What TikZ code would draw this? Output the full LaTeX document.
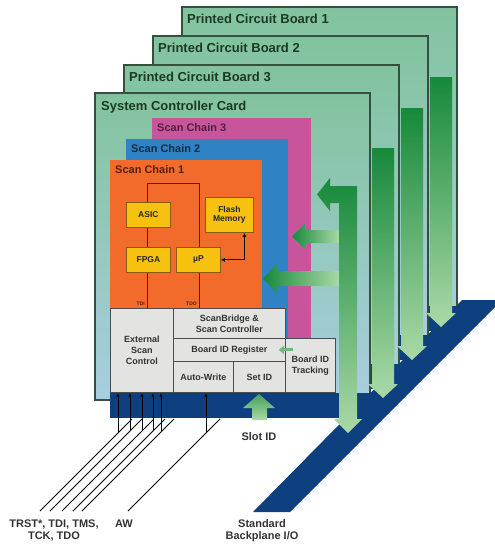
\documentclass[tikz,border=0pt]{standalone}
\usepackage{fontspec}
\setmainfont{Liberation Sans}
\usetikzlibrary{arrows.meta}
\definecolor{pcbgreen}{HTML}{82C39E}
\definecolor{pcbedge}{HTML}{34513F}
\definecolor{sccblue}{HTML}{A8CEDF}
\definecolor{bpblue}{HTML}{0E3F7E}
\definecolor{chainpink}{HTML}{C8559C}
\definecolor{chainblue}{HTML}{2F82C4}
\definecolor{chainorange}{HTML}{F26B2B}
\definecolor{chipyellow}{HTML}{F6C20F}
\definecolor{chipedge}{HTML}{8A5A12}
\definecolor{boxgray}{HTML}{E3E3E1}
\definecolor{arrdark}{HTML}{17893B}
\definecolor{arrlight}{HTML}{AAD9A7}
\definecolor{titleink}{HTML}{1B3A24}
\definecolor{wireink}{HTML}{5C1E0C}
\begin{document}
\begin{tikzpicture}[x=1pt, y=-1pt,
    board/.style={top color=pcbgreen, middle color=pcbgreen, bottom color=sccblue, draw=pcbedge, line width=1.2pt},
    title/.style={anchor=base west, inner sep=0pt, font=\fontsize{13}{15}\selectfont\bfseries, text=titleink},
    chainlbl/.style={anchor=base west, inner sep=0pt, font=\fontsize{11}{13}\selectfont\bfseries},
    chip/.style={anchor=north west, fill=chipyellow, draw=chipedge, line width=.8pt, inner sep=0pt, align=center, font=\fontsize{8.5}{9.5}\selectfont\bfseries, text=black!85},
    graybox/.style={anchor=north west, fill=boxgray, draw=black!70, line width=.8pt, inner sep=0pt, align=center, font=\fontsize{9}{11}\selectfont\bfseries, text=black!80},
    tag/.style={inner sep=2pt, font=\fontsize{5}{6}\selectfont\bfseries, text=wireink},
    wire/.style={draw=wireink, line width=.9pt},
    bigarrow/.style={top color=arrdark, bottom color=arrlight},
    sig/.style={line width=1pt},
    caption/.style={align=center, inner sep=0pt, font=\fontsize{11}{12}\selectfont\bfseries, text=black!80}]
  \useasboundingbox (0,0) rectangle (495,547);
  \fill[bpblue] (253,512) -- (290,512) -- (495,307) -- (495,300) -- (462,300) -- cycle;
  \foreach \n [count=\k from 0] in {1,2,3}{
    \draw[board] (182-29*\k,7+29*\k) rectangle (457-29*\k,313+29*\k);
    \fill[bpblue] (197-29*\k,306+29*\k) rectangle (467-29*\k,331+29*\k);
    \node[title] (pcb\n) at (187-29*\k,23+29*\k) {Printed Circuit Board \n};
  }
  \draw[board] (95,93) rectangle (370,400);
  \node[title] (scc) at (101,110) {System Controller Card};
  \fill[chainpink] (152,118) rectangle (311,338);
  \fill[chainblue] (126,139) rectangle (288,338);
  \fill[chainorange] (110,160) rectangle (262,308);
  \node[chainlbl, text=chainpink!40!black] (chain3) at (157,131) {Scan Chain 3};
  \node[chainlbl, text=chainblue!35!black] (chain2) at (131,152) {Scan Chain 2};
  \node[chainlbl, text=wireink] (chain1) at (115,173) {Scan Chain 1};
  \coordinate (tdi) at (147,308);
  \coordinate (tdo) at (199,308);
  \draw[wire] (tdi) --++ (0,-125) -| (tdo);
  \node[tag, anchor=south east] (tdilbl) at (tdi) {TDI};
  \node[tag, anchor=south east] (tdolbl) at (tdo) {TDO};
  \node[chip, minimum width=44pt, minimum height=25pt] (asic) at (126,202) {ASIC};
  \node[chip, minimum width=44pt, minimum height=25pt] (fpga) at (126,247) {FPGA};
  \node[chip, minimum width=44pt, minimum height=25pt] (up) at (176,247) {µP};
  \node[chip, minimum width=48pt, minimum height=35pt] (flash) at (205,197) {Flash\\Memory};
  \draw[{Latex[length=4pt,width=4pt]}-{Latex[length=4pt,width=4pt]}, line width=.9pt]
    (up.east) -| ([xshift=15pt]flash.south);
  \node[graybox, minimum width=63pt, minimum height=84pt] (ext) at (110,308) {External\\Scan\\Control};
  \node[graybox, minimum width=112pt, minimum height=30pt] (bridge) at (173,308) {ScanBridge \&\\Scan Controller};
  \node[graybox, minimum width=112pt, minimum height=23pt] (reg) at (173,338) {Board ID Register};
  \node[graybox, minimum width=60pt, minimum height=31pt] (autowr) at (173,361) {Auto-Write};
  \node[graybox, minimum width=52pt, minimum height=31pt] (setid) at (233,361) {Set ID};
  \node[graybox, minimum width=50pt, minimum height=54pt] (track) at (285,338) {Board ID\\Tracking};
  \draw[-{Triangle[length=5pt,width=8pt]}, line width=3pt, draw=arrlight!60!arrdark]
    ([xshift=7pt]reg.east) -- ([xshift=-7pt]reg.east);
  \fill[bpblue] (110,393) rectangle (380,418);
  \foreach \r/\t/\b in {457/77/327, 428/108/360, 399/148/398}{
    \shade[bigarrow] (\r-27,\t) --++ (22,0) --++ (0,\b-\t-14) --++ (4,0)
                     --++ (-15,14) --++ (-15,-14) --++ (4,0) -- cycle;
  }
  \shade[left color=arrdark, right color=arrlight] (339,230) -- (305,230) -- (305,224) -- (292,236.5)
        -- (305,249) -- (305,243) -- (339,243) -- cycle;
  \shade[left color=arrdark, right color=arrlight] (339,271) -- (277,271) -- (277,264) -- (263,278.5)
        -- (277,293) -- (277,286) -- (339,286) -- cycle;
  \shade[bigarrow] (357,186) -- (357,419) -- (362,419) -- (348,433) -- (334,419) -- (339,419)
        -- (339,203) -- (330,203) -- (330,211) -- (317,194.5) -- (330,178) -- (330,186) -- cycle;
  \shade[bottom color=arrlight, top color=arrdark!70!arrlight] (252,420) -- (252,408) -- (243,408)
        -- (259,394) -- (275,408) -- (267,408) -- (267,420) -- cycle;
  \node[caption] (slot) at (259,437) {Slot ID};
  \foreach \x/\e in {118/40,130/50,142/62,153/73,161/82}{
    \draw[sig] (\e,511) --++ (92,-92);
    \draw[sig, -{Latex[length=4pt,width=3pt]}] (\x,511-\x+\e) -- (\x,0 |- ext.south);
  }
  \draw[sig] (128,511) --++ (92,-92);
  \draw[sig, -{Latex[length=4pt,width=3pt]}] (206,433) -- (206,0 |- autowr.south);
  \node[caption] (jtag) at (54,531) {TRST*, TDI, TMS,\\TCK, TDO};
  \node[caption] (awlbl) at (124,524) {AW};
  \node[caption] (bplane) at (262,531) {Standard\\Backplane I/O};
\end{tikzpicture}
\end{document}
